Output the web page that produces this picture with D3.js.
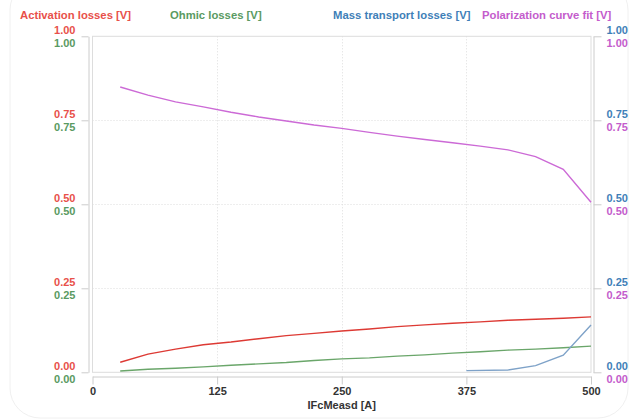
<!DOCTYPE html>
<html>
<head>
<meta charset="utf-8">
<script src="https://cdn.jsdelivr.net/npm/d3@7"></script>
<style>
  body { margin: 0; background: #fff; }
  svg { display: block; font-family: "Liberation Sans", Arial, sans-serif; }
  .tick line { stroke: #ccc; }
  .domain { stroke: #ccc; }
</style>
</head>
<body>
<svg class="chart" width="638" height="419"></svg>
<script>
/* data */
var current = [27.8, 55.6, 83.3, 111.1, 138.9, 166.7, 194.4, 222.2, 250, 277.8,
               305.6, 333.3, 361.1, 388.9, 416.7, 444.4, 472.2, 500];
var activation = [0.030, 0.054, 0.069, 0.082, 0.090, 0.100, 0.109, 0.116, 0.123, 0.129,
                  0.136, 0.141, 0.146, 0.150, 0.155, 0.158, 0.161, 0.165];
var ohmic = [0.004, 0.009, 0.012, 0.016, 0.021, 0.025, 0.029, 0.035, 0.040, 0.043,
             0.048, 0.052, 0.057, 0.061, 0.066, 0.069, 0.073, 0.078];
var massCurrent = [375, 416.7, 444.4, 472.2, 500];
var massTransport = [0.005, 0.007, 0.020, 0.051, 0.141];
var polarization = [0.849, 0.825, 0.805, 0.790, 0.774, 0.760, 0.748, 0.736, 0.726, 0.714,
                    0.703, 0.693, 0.683, 0.673, 0.662, 0.642, 0.604, 0.506];

var xTicks = [0, 125, 250, 375, 500];
var yTicks = [0, 0.25, 0.5, 0.75, 1];

var seriesNames = ["Activation losses [V]", "Ohmic losses [V]", "Mass transport losses [V]", "Polarization curve fit [V]"];
var textColors = ["#e8504a", "#5a9a62", "#3f7fb8", "#c45ccc"];
var lineColors = ["#dd3a34", "#6aa66a", "#7ea2c8", "#cc6ad6"];

var svg = d3.select(".chart");

/* faint rounded card behind everything */
svg.append("rect")
    .attr("x", 10).attr("y", -20)
    .attr("width", 618).attr("height", 438)
    .attr("rx", 30)
    .attr("fill", "#fff")
    .attr("stroke", "#f0f0f0");

var x = d3.scaleLinear().domain([0, 500]).range([92.5, 591]);
var y = d3.scaleLinear().domain([0, 1]).range([372.3, 36.3]);

/* plot frame */
svg.append("rect")
    .attr("x", x(0)).attr("y", y(1))
    .attr("width", x(500) - x(0)).attr("height", y(0) - y(1))
    .attr("fill", "none")
    .attr("stroke", "#ddd");

/* dotted grid */
svg.append("g").selectAll("line")
    .data(xTicks.slice(1, -1))
    .enter().append("line")
      .attr("x1", function(d) { return Math.round(x(d)) + 0.5; })
      .attr("x2", function(d) { return Math.round(x(d)) + 0.5; })
      .attr("y1", y(1)).attr("y2", y(0))
      .attr("stroke", "#ddd")
      .attr("stroke-dasharray", "1,2");

svg.append("g").selectAll("line")
    .data(yTicks.slice(1, -1))
    .enter().append("line")
      .attr("x1", x(0)).attr("x2", x(500))
      .attr("y1", function(d) { return Math.round(y(d)) + 0.5; })
      .attr("y2", function(d) { return Math.round(y(d)) + 0.5; })
      .attr("stroke", "#ddd")
      .attr("stroke-dasharray", "1,2");

/* left axis: activation (red, above) + ohmic (green, below) */
var leftAxis = svg.append("g")
    .attr("transform", "translate(88.5,0)")
    .call(d3.axisLeft(y).tickValues(yTicks).tickSize(7).tickSizeOuter(0).tickFormat(""));

/* right axis: mass transport (blue, above) + polarization (magenta, below) */
var rightAxis = svg.append("g")
    .attr("transform", "translate(593.5,0)")
    .call(d3.axisRight(y).tickValues(yTicks).tickSize(8).tickSizeOuter(0).tickFormat(""));

function tickLabels(axis, xPos, anchor, c1, c2) {
  axis.selectAll(".tick").each(function(d) {
    var t = d3.select(this);
    t.append("text")
      .attr("x", xPos).attr("y", -7).attr("dy", "0.35em")
      .attr("text-anchor", anchor)
      .attr("fill", c1)
      .attr("font-size", 11).attr("font-weight", "bold")
      .text(d3.format(".2f")(d));
    t.append("text")
      .attr("x", xPos).attr("y", 6.5).attr("dy", "0.35em")
      .attr("text-anchor", anchor)
      .attr("fill", c2)
      .attr("font-size", 11).attr("font-weight", "bold")
      .text(d3.format(".2f")(d));
  });
}
tickLabels(leftAxis, -13, "end", textColors[0], textColors[1]);
tickLabels(rightAxis, 13, "start", textColors[2], textColors[3]);

/* bottom axis */
var bottomAxis = svg.append("g")
    .attr("transform", "translate(0,376.5)")
    .call(d3.axisBottom(x).tickValues(xTicks).tickSize(8).tickSizeOuter(0).tickPadding(3));

bottomAxis.selectAll("text")
    .attr("fill", "#333")
    .attr("font-size", 11)
    .attr("font-weight", "bold")
    .attr("font-family", "Liberation Sans, Arial, sans-serif");

svg.append("text")
    .attr("x", (x(0) + x(500)) / 2).attr("y", 409)
    .attr("text-anchor", "middle")
    .attr("fill", "#333")
    .attr("font-size", 11).attr("font-weight", "bold")
    .text("IFcMeasd [A]");

/* lines */
var line = d3.line()
    .x(function(d) { return x(d[0]); })
    .y(function(d) { return y(d[1]); });

var seriesData = [
  d3.zip(current, activation),
  d3.zip(current, ohmic),
  d3.zip(massCurrent, massTransport),
  d3.zip(current, polarization)
];

svg.append("g").selectAll("path")
    .data(seriesData)
    .enter().append("path")
      .attr("d", line)
      .attr("fill", "none")
      .attr("stroke", function(d, i) { return lineColors[i]; })
      .attr("stroke-width", 1.4);

/* legend across the top */
var legendX = [20, 170, 333, 482];
svg.append("g").selectAll("text")
    .data(seriesNames)
    .enter().append("text")
      .attr("x", function(d, i) { return legendX[i]; })
      .attr("y", 19)
      .attr("fill", function(d, i) { return textColors[i]; })
      .attr("font-size", 11.3).attr("font-weight", "bold")
      .text(function(d) { return d; });
</script>
</body>
</html>
